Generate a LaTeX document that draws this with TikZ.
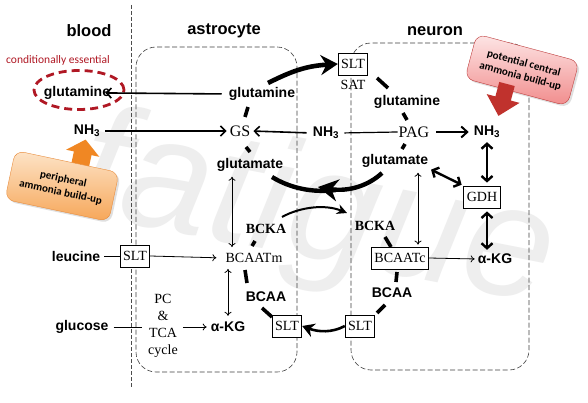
\documentclass[tikz,border=0pt]{standalone}
\usepackage{fontspec}
\setmainfont{Liberation Serif}
\setsansfont{Liberation Sans}
\newfontfamily\calibri{Carlito}
\usetikzlibrary{arrows.meta,shadows,calc,shapes.geometric}
\definecolor{essred}{RGB}{176,24,36}
\definecolor{orlight}{RGB}{253,228,200}
\definecolor{ordark}{RGB}{246,166,88}
\definecolor{orborder}{RGB}{232,140,60}
\definecolor{orarrow}{RGB}{240,135,35}
\definecolor{pklight}{RGB}{253,230,230}
\definecolor{pkdark}{RGB}{241,140,140}
\definecolor{pkborder}{RGB}{190,60,60}
\definecolor{pkarrow}{RGB}{192,50,45}
\definecolor{wmgray}{RGB}{238,238,238}
\begin{document}
\begin{tikzpicture}[x=1pt,y=-1pt,
  lbl/.style={font=\sffamily\bfseries\fontsize{14}{16}\selectfont, inner sep=1pt},
  ser/.style={font=\fontsize{14}{16}\selectfont, inner sep=1pt},
  serbig/.style={font=\fontsize{16}{18}\selectfont, inner sep=1pt},
  serb/.style={font=\bfseries\fontsize{14}{16}\selectfont, inner sep=1pt},
  boxn/.style={draw, line width=0.8pt, fill=white, font=\fontsize{14}{16}\selectfont, inner xsep=3pt, inner ysep=0pt, minimum height=22pt},
  ttl/.style={font=\sffamily\bfseries\fontsize{16.5}{18}\selectfont},
  compart/.style={draw=black!75, line width=0.6pt, dash pattern=on 5pt off 2.5pt, rounded corners=20pt},
  divider/.style={draw=black!70, line width=0.6pt, dash pattern=on 4pt off 2pt},
  thinarr/.style={line width=0.8pt, -{To[length=4pt,width=7pt]}},
  thindbl/.style={line width=0.8pt, {To[length=4pt,width=7pt]}-{To[length=4pt,width=7pt]}},
  medarr/.style={line width=1.6pt, -{Straight Barb[length=5pt,width=10pt]}},
  thickdbl/.style={line width=2.4pt, {Straight Barb[length=5pt,width=11pt]}-{Straight Barb[length=5pt,width=11pt]}},
  cyc/.style={line width=3.6pt},
  callout/.style={rounded corners=9pt, align=center, inner sep=2pt,
    font=\calibri\bfseries\fontsize{11}{13.5}\selectfont,
    drop shadow={opacity=0.25, shadow xshift=2pt, shadow yshift=-2pt}}
]
\useasboundingbox (0,0) rectangle (588,403);
\fill[white] (0,0) rectangle (588,403);

% watermark
\node[font=\sffamily\itshape\fontsize{160}{160}\selectfont, text=wmgray, rotate=-11, anchor=base west, inner sep=0pt] (wm) at (72,212) {fatigue};

% compartments
\draw[divider] (131,5) -- (131,387);
\draw[compart] (136,47) rectangle (297,372);
\draw[compart] (351,43) rectangle (529,370);

% titles
\node[ttl] (tblood) at (89,31) {blood};
\node[ttl] (tastro) at (224,31) {astrocyte};
\node[ttl] (tneuron) at (435,31) {neuron};

% blood
\node[font=\calibri\fontsize{11.5}{13}\selectfont, text=essred] (cond) at (58,60) {conditionally essential};
\node[lbl] (bglu) at (77,93) {glutamine};
\node[ellipse, draw=essred, line width=2.8pt, dash pattern=on 8pt off 5pt, minimum width=90pt, minimum height=39pt] (bell) at (79,90) {};
\node[lbl] (bnh3) at (87,131) {NH\textsubscript{3}};
\node[lbl] (leu) at (76,256) {leucine};
\node[lbl] (gluc) at (82,327) {glucose};

% astrocyte
\node[lbl] (aglu) at (262,94) {glutamine};
\node[serbig] (gs) at (240,131) {GS};
\node[lbl] (agla) at (250,165) {glutamate};
\node[serb] (abcka) at (266,229) {BCKA};
\node[ser] (bcaatm) at (254,258) {BCAATm};
\node[lbl] (abcaa) at (266,297) {BCAA};
\node[lbl] (aakg) at (228,327) {α-KG};
\node[font=\fontsize{14}{17}\selectfont, align=center, inner sep=1pt] (pc) at (163,326) {PC\\\&\\TCA\\cycle};
\node[boxn] (slt2) at (135,256) {SLT};
\node[boxn] (slt3) at (287,326) {SLT};

% middle / neuron
\node[boxn] (slt1) at (353,64) {SLT};
\node[ser] (sat) at (353,85) {SAT};
\node[lbl] (mnh3) at (326,133) {NH\textsubscript{3}};
\node[lbl] (nglu) at (407,102) {glutamine};
\node[serbig] (pag) at (414,132) {PAG};
\node[lbl] (nnh3) at (487,132) {NH\textsubscript{3}};
\node[lbl] (ngla) at (395,161) {glutamate};
\node[boxn] (gdh) at (482,197) {GDH};
\node[serb] (nbcka) at (375,226) {BCKA};
\node[boxn] (bcaatc) at (400,258) {BCAATc};
\node[lbl] (nakg) at (495,259) {α-KG};
\node[lbl] (nbcaa) at (392,293) {BCAA};
\node[boxn] (slt4) at (360,326) {SLT};

% straight connectors
\draw[medarr, shorten <=6pt, shorten >=-6pt] (aglu.west) -- (bglu.east);
\draw[medarr, shorten <=4pt, shorten >=2pt] (bnh3.east) -- (gs.west);
\draw[medarr, shorten <=5pt, shorten >=2pt] (mnh3.west) -- (gs.east);
\draw[line width=1.2pt, shorten <=4pt] (mnh3.east) -- (pag.west);
\draw[line width=2pt, -{Straight Barb[length=6pt,width=11pt]}, shorten <=6pt, shorten >=4pt] (pag.east) -- (nnh3.west);
\draw[thickdbl, shorten <=3pt, shorten >=3pt] (nnh3.south) -- (gdh.north -| nnh3.south);
\draw[thickdbl, shorten <=3pt, shorten >=3pt] (gdh.south -| nakg.north) ++(-8,0) -- ([xshift=-8pt]nakg.north);
\draw[thickdbl, shorten <=2pt, shorten >=2pt] (ngla.south east) -- (gdh.north west);
\draw[thindbl, shorten <=4pt, shorten >=2pt] ([xshift=18pt]bcaatc.north |- ngla.south) -- ([xshift=18pt]bcaatc.north);
\draw[thinarr, shorten >=2pt] (bcaatc.east) -- (nakg.west);
\draw[thindbl, shorten <=4pt, shorten >=5pt] ([xshift=-22pt]bcaatm.north |- agla.south) -- ([xshift=-22pt]bcaatm.north);
\draw[thindbl, shorten <=5pt, shorten >=5pt] ([xshift=-26pt]bcaatm.south) -- ([xshift=-26pt]bcaatm.south |- aakg.north);
\draw[line width=0.8pt, shorten <=3pt] (leu.east) -- (slt2.west);
\draw[thinarr, shorten >=8pt] (slt2.east) -- (bcaatm.west);
\draw[line width=0.8pt, shorten <=4pt, shorten >=5pt] (gluc.east) -- (gluc.east -| pc.west);
\draw[thinarr, shorten <=4pt, shorten >=3pt] (pc.east |- aakg.west) -- (aakg.west);

% cycle (thick)
\draw[line width=4.6pt, -{Stealth[length=17pt,width=20pt]}] ($(aglu)+(6,-11)$) .. controls (290,72) and (305,66) .. (slt1.west);
\draw[cyc] ($(slt1)+(24,14)$) -- ($(slt1)+(35,24)$);
\draw[cyc] ($(nglu)+(-4,11)$) -- ($(nglu)+(0,18)$);
\draw[cyc] ($(pag)+(-9,12)$) -- ($(pag)+(-12,17)$);
\draw[line width=4.4pt, -{Stealth[length=20pt,width=22pt]}] ($(ngla)+(-13,12)$) .. controls (368,186) and (348,192) .. ($(agla)+(68,22)$);
\draw[line width=4.4pt] ($(agla)+(22,12)$) .. controls (290,188) and (312,193) .. ($(agla)+(86,25)$);
\draw[cyc] ($(aglu)+(-14,13)$) -- ($(aglu)+(-17,23)$);
\draw[cyc] ($(gs)+(6,16)$) -- ($(gs)+(10,21)$);
\draw[line width=2pt, -{Stealth[length=10pt,width=10pt]}] ($(abcka)+(16,-12)$) .. controls (300,207) and (325,204) .. ($(nbcka)+(-28,-13)$);
\draw[cyc] ($(abcka)+(-11,12)$) -- ($(abcka)+(-14,17)$);
\draw[cyc] ($(bcaatm)+(-9,12)$) -- ($(bcaatm)+(-7,25)$);
\draw[cyc] ($(abcaa)+(-4,11)$) -- ($(abcaa)+(6,20)$);
\draw[cyc] ($(nbcaa)+(-7,12)$) -- ($(nbcaa)+(-15,20)$);
\draw[cyc] ($(bcaatc)+(-3,14)$) -- ($(bcaatc)+(-4,24)$);
\draw[cyc] ($(nbcka)+(10,11)$) -- ($(nbcka)+(16,21)$);
\draw[line width=2.6pt, -{Stealth[length=12pt,width=14pt]}] (slt4.west) .. controls (332,333) and (318,332) .. (slt3.east);

% callouts
\begin{scope}[shift={(80,166)}, rotate=-12]
  \fill[orarrow] (-9,0) -- (-9,-13) -- (-17,-13) -- (0,-27) -- (17,-13) -- (9,-13) -- (9,0) -- cycle;
\end{scope}
\node[callout, rotate=-12, draw=orborder, top color=orlight, bottom color=ordark, minimum width=106pt, minimum height=50pt] (orbox) at (62,186) {peripheral\\ammonia build-up};

\node[callout, rotate=-15, draw=pkborder, top color=pklight, bottom color=pkdark, minimum width=106pt, minimum height=46pt] (pkbox) at (522,70) {potential central\\ammonia build-up};
\begin{scope}[shift={(507,84)}, rotate=-15]
  \fill[pkarrow] (-8,0) -- (-8,15) -- (-17,15) -- (0,33) -- (17,15) -- (8,15) -- (8,0) -- cycle;
\end{scope}
\end{tikzpicture}
\end{document}
